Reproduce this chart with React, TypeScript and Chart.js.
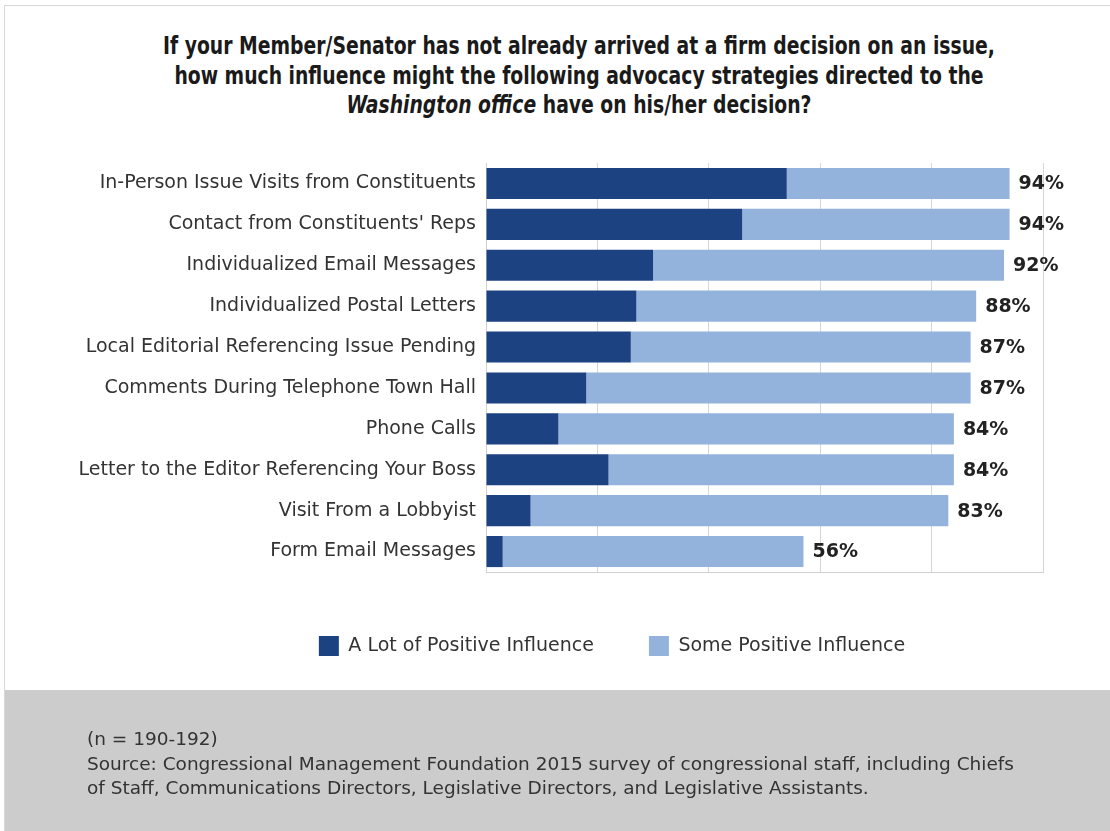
import React, { useEffect, useRef } from "react";
import { Chart, registerables } from "chart.js";

Chart.register(...registerables);

const categories = [
  "In-Person Issue Visits from Constituents",
  "Contact from Constituents' Reps",
  "Individualized Email Messages",
  "Individualized Postal Letters",
  "Local Editorial Referencing Issue Pending",
  "Comments During Telephone Town Hall",
  "Phone Calls",
  "Letter to the Editor Referencing Your Boss",
  "Visit From a Lobbyist",
  "Form Email Messages",
];
const seriesNames = ["A Lot of Positive Influence", "Some Positive Influence"];
const aLotValues = [54, 46, 30, 27, 26, 18, 13, 22, 8, 3];
const someValues = [40, 48, 63, 61, 61, 69, 71, 62, 75, 54];
const totalLabels = ["94%", "94%", "92%", "88%", "87%", "87%", "84%", "84%", "83%", "56%"];
const xTicks = [0, 20, 40, 60, 80, 100];

const titleLines = [
  "If your Member/Senator has not already arrived at a firm decision on an issue,",
  "how much influence might the following advocacy strategies directed to the",
];
const titleItalic = "Washington office";
const titleEnd = " have on his/her decision?";
const footerLines = [
  "(n = 190-192)",
  "Source: Congressional Management Foundation 2015 survey of congressional staff, including Chiefs",
  "of Staff, Communications Directors, Legislative Directors, and Legislative Assistants.",
];

const DARK = "#1c4282";
const LIGHT = "#94b3dc";
const LABEL_FONT = '"DejaVu Sans", "Open Sans", sans-serif';
const TITLE_FONT = '"Liberation Sans Narrow", "DejaVu Sans Condensed", "Roboto Condensed", sans-serif';
const CANVAS_W = 1224;

const totalsPlugin = {
  id: "totals",
  afterDatasetsDraw(chart: any) {
    const { ctx, scales } = chart;
    const xs = scales.x;
    const ys = scales.y;
    ctx.save();
    ctx.font = `bold 19px ${LABEL_FONT}`;
    ctx.fillStyle = "#222222";
    ctx.textAlign = "left";
    ctx.textBaseline = "middle";
    categories.forEach((_, i) => {
      const x = xs.getPixelForValue(aLotValues[i] + someValues[i]);
      const y = ys.getPixelForValue(i);
      ctx.fillText(totalLabels[i], x + 9, y + 1);
    });
    ctx.restore();
  },
};

export default function App() {
  const ref = useRef<HTMLCanvasElement | null>(null);

  useEffect(() => {
    if (!ref.current) return;
    const chart = new Chart(ref.current, {
      type: "bar",
      data: {
        labels: categories,
        datasets: [
          {
            label: seriesNames[0],
            data: aLotValues,
            backgroundColor: DARK,
            borderWidth: 0,
            barPercentage: 0.76,
            categoryPercentage: 1,
          },
          {
            label: seriesNames[1],
            data: someValues,
            backgroundColor: LIGHT,
            borderWidth: 0,
            barPercentage: 0.76,
            categoryPercentage: 1,
          },
        ],
      },
      options: {
        indexAxis: "y",
        animation: false,
        responsive: false,
        devicePixelRatio: 1,
        layout: { padding: { top: 163, right: 0, left: 0, bottom: 165 } },
        scales: {
          x: {
            stacked: true,
            min: 0,
            max: 100,
            afterBuildTicks: (scale: any) => {
              scale.ticks = xTicks.map((v) => ({ value: v }));
            },
            ticks: { display: false },
            grid: { color: "#d6d6d6", lineWidth: 1, drawTicks: false },
            border: { display: true, color: "#d0d0d0" },
            afterFit: (scale: any) => {
              scale.height = 9;
            },
          },
          y: {
            stacked: true,
            grid: { display: false, drawTicks: false },
            border: { display: true, color: "#d0d0d0" },
            ticks: {
              color: "#333333",
              font: { family: LABEL_FONT, size: 19 },
              padding: 10,
              autoSkip: false,
            },
            afterFit: (scale: any) => {
              scale.width = 486;
            },
          },
          y2: {
            type: "category",
            position: "right",
            grid: { display: false },
            border: { display: false },
            ticks: { display: false },
            afterFit: (scale: any) => {
              scale.width = CANVAS_W - 1043;
            },
          },
        },
        plugins: {
          legend: {
            display: true,
            position: "bottom",
            labels: {
              boxWidth: 20,
              boxHeight: 20,
              padding: 55,
              color: "#333333",
              font: { family: LABEL_FONT, size: 19 },
            },
          },
          tooltip: { enabled: false },
          title: { display: false },
        },
      },
      plugins: [totalsPlugin],
    } as any);
    return () => chart.destroy();
  }, []);

  return (
    <div style={{ position: "absolute", left: 0, top: 0, width: 1110, height: 831, overflow: "hidden", background: "#ffffff" }}>
      <div
        style={{
          position: "absolute",
          left: 4,
          top: 5,
          width: 1110,
          height: 830,
          borderTop: "1px solid #d8d8d8",
          borderLeft: "1px solid #d8d8d8",
          boxSizing: "border-box",
        }}
      />
      <div
        style={{
          position: "absolute",
          left: 5,
          top: 690,
          width: 1105,
          height: 141,
          background: "#cccccc",
        }}
      />
      <div
        style={{
          position: "absolute",
          left: 48,
          top: 32,
          width: 1062,
          textAlign: "center",
          fontFamily: TITLE_FONT,
          fontWeight: "bold",
          fontSize: 24,
          lineHeight: "29.5px",
          color: "#1a1a1a",
          transform: "scaleX(0.87)",
          transformOrigin: "531px 0",
        }}
      >
        <div>{titleLines[0]}</div>
        <div>{titleLines[1]}</div>
        <div>
          <i>{titleItalic}</i>
          {titleEnd}
        </div>
      </div>
      <canvas ref={ref} width={CANVAS_W} height={831} style={{ position: "absolute", left: 0, top: 0, width: CANVAS_W, height: 831 }} />
      <div
        style={{
          position: "absolute",
          left: 87,
          top: 727,
          fontFamily: LABEL_FONT,
          fontSize: 18.5,
          lineHeight: "24.5px",
          color: "#333333",
          whiteSpace: "nowrap",
        }}
      >
        {footerLines.map((l, i) => (
          <div key={i}>{l}</div>
        ))}
      </div>
    </div>
  );
}
